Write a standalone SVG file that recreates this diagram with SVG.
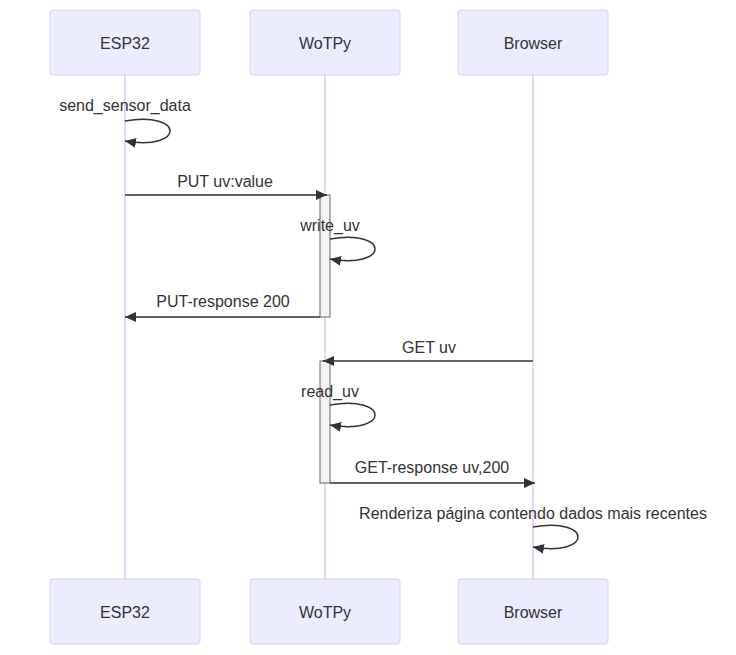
<svg xmlns="http://www.w3.org/2000/svg" width="736" height="655" viewBox="0 0 736 655">
<style>
.actor{fill:#ECECFF;stroke:#DACEF3;stroke-width:1}
.atext{font-family:"Liberation Sans",Arial,sans-serif;font-size:16px;fill:#333;text-anchor:middle;dominant-baseline:central}
.life{stroke:#DACEF3;stroke-width:1.5;fill:none}
.act{fill:#F4F4F4;stroke:#666;stroke-width:1}
.msg{stroke:#333;stroke-width:1.5;fill:none}
.mtext{font-family:"Liberation Sans",Arial,sans-serif;font-size:16px;fill:#333;text-anchor:middle}
</style>
<defs>
<marker id="arrow" viewBox="0 0 12 12" refX="11" refY="6" markerWidth="12" markerHeight="12" markerUnits="userSpaceOnUse" orient="auto">
<path d="M0,1 L11,6 L0,11 Z" fill="#333"/>
</marker>
</defs>
<rect width="736" height="655" fill="#fff"/>
<g id="lifelines">
<line class="life" x1="125" y1="75" x2="125" y2="579"/>
<line class="life" x1="325" y1="75" x2="325" y2="579"/>
<line class="life" x1="533" y1="75" x2="533" y2="579"/>
</g>
<g id="actor-esp32-top"><rect class="actor" x="50" y="10" width="150" height="65" rx="3"/><text class="atext" x="125" y="43">ESP32</text></g>
<g id="actor-wotpy-top"><rect class="actor" x="250" y="10" width="150" height="65" rx="3"/><text class="atext" x="325" y="43">WoTPy</text></g>
<g id="actor-browser-top"><rect class="actor" x="458" y="10" width="150" height="65" rx="3"/><text class="atext" x="533" y="43">Browser</text></g>
<g id="actor-esp32-bottom"><rect class="actor" x="50" y="579" width="150" height="65" rx="3"/><text class="atext" x="125" y="612">ESP32</text></g>
<g id="actor-wotpy-bottom"><rect class="actor" x="250" y="579" width="150" height="65" rx="3"/><text class="atext" x="325" y="612">WoTPy</text></g>
<g id="actor-browser-bottom"><rect class="actor" x="458" y="579" width="150" height="65" rx="3"/><text class="atext" x="533" y="612">Browser</text></g>
<g id="activations">
<rect class="act" x="320" y="195" width="10" height="122"/>
<rect class="act" x="320" y="361" width="10" height="122"/>
</g>
<g id="connectors">
<path class="msg" d="M125,121 C185,111 185,151 125,141" marker-end="url(#arrow)"/>
<line class="msg" x1="125" y1="195" x2="327" y2="195" marker-end="url(#arrow)"/>
<path class="msg" d="M330,239 C390,229 390,269 330,259" marker-end="url(#arrow)"/>
<line class="msg" x1="320" y1="317" x2="125" y2="317" marker-end="url(#arrow)"/>
<line class="msg" x1="533" y1="361" x2="323" y2="361" marker-end="url(#arrow)"/>
<path class="msg" d="M330,405 C390,395 390,435 330,425" marker-end="url(#arrow)"/>
<line class="msg" x1="330" y1="483" x2="535" y2="483" marker-end="url(#arrow)"/>
<path class="msg" d="M533,527 C593,517 593,557 533,547" marker-end="url(#arrow)"/>
</g>
<g id="labels">
<text class="mtext" x="125" y="111">send_sensor_data</text>
<text class="mtext" x="225" y="187">PUT uv:value</text>
<text class="mtext" x="330" y="231">write_uv</text>
<text class="mtext" x="223" y="307">PUT-response 200</text>
<text class="mtext" x="429" y="353">GET uv</text>
<text class="mtext" x="330" y="397">read_uv</text>
<text class="mtext" x="432" y="473">GET-response uv,200</text>
<text class="mtext" x="533" y="519">Renderiza página contendo dados mais recentes</text>
</g>
</svg>
